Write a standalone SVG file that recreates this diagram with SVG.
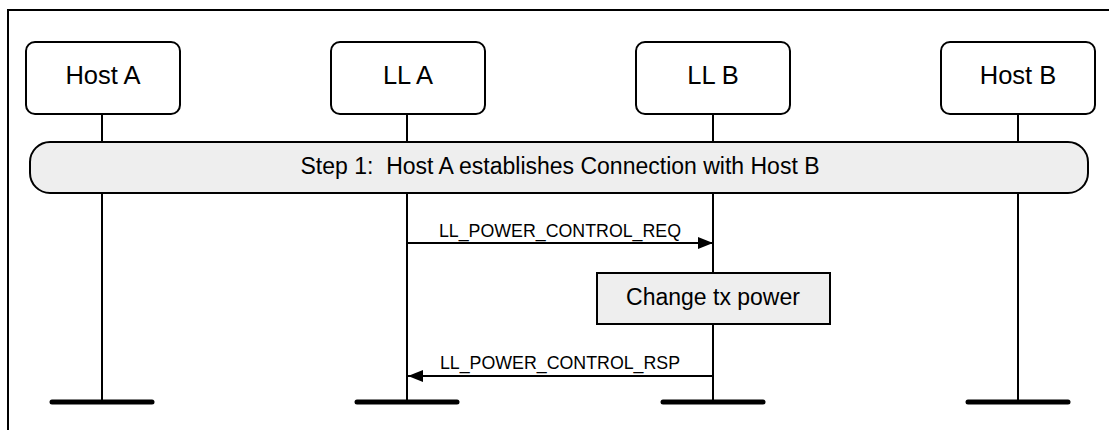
<svg xmlns="http://www.w3.org/2000/svg" width="1109" height="430" viewBox="0 0 1109 430">
<style>
.box{fill:#fff;stroke:#000;stroke-width:2}
.lt{font-family:"Liberation Sans",Arial,sans-serif;font-size:23px;fill:#000;text-anchor:middle}
.ht{font-size:25.5px}
.ml{font-family:"Liberation Sans",Arial,sans-serif;font-size:17.8px;fill:#000;text-anchor:middle}
.life{stroke:#000;stroke-width:2}
.foot{stroke:#000;stroke-width:5;stroke-linecap:round}
.msg{stroke:#000;stroke-width:2;fill:none}
.grey{fill:#eeeeee;stroke:#000;stroke-width:2}
</style>
<defs>
<marker id="ah" markerWidth="15" markerHeight="12" refX="15" refY="6" orient="auto" markerUnits="userSpaceOnUse">
<path d="M0,0 L15,6 L0,12 Z" fill="#000"/>
</marker>
</defs>
<path d="M8,430 V10 H1109" fill="none" stroke="#000" stroke-width="2"/>
<g id="lifelines">
<line class="life" x1="102" y1="114" x2="102" y2="402"/>
<line class="life" x1="407" y1="114" x2="407" y2="402"/>
<line class="life" x1="713" y1="114" x2="713" y2="402"/>
<line class="life" x1="1018" y1="114" x2="1018" y2="402"/>
<line class="foot" x1="52" y1="402" x2="152" y2="402"/>
<line class="foot" x1="357" y1="402" x2="457" y2="402"/>
<line class="foot" x1="663" y1="402" x2="763" y2="402"/>
<line class="foot" x1="968" y1="402" x2="1068" y2="402"/>
</g>
<g id="hostA"><rect class="box" x="26" y="42" width="154" height="72" rx="9"/><text class="lt ht" x="103" y="84">Host A</text></g>
<g id="llA"><rect class="box" x="331" y="42" width="154" height="72" rx="9"/><text class="lt ht" x="408" y="84">LL A</text></g>
<g id="llB"><rect class="box" x="636" y="42" width="154" height="72" rx="9"/><text class="lt ht" x="713" y="84">LL B</text></g>
<g id="hostB"><rect class="box" x="941" y="42" width="154" height="72" rx="9"/><text class="lt ht" x="1018" y="84">Host B</text></g>
<g id="step1"><rect class="grey" x="30" y="142" width="1058" height="51" rx="20"/><text class="lt" x="560" y="174" xml:space="preserve">Step 1:  Host A establishes Connection with Host B</text></g>
<g id="changeTx"><rect class="grey" x="597" y="273" width="233" height="51"/><text class="lt" x="713" y="305">Change tx power</text></g>
<g id="connectors">
<line class="msg" x1="407" y1="243" x2="713" y2="243" marker-end="url(#ah)"/>
<text class="ml" x="560" y="237">LL_POWER_CONTROL_REQ</text>
<line class="msg" x1="713" y1="376" x2="408" y2="376" marker-end="url(#ah)"/>
<text class="ml" x="560" y="369">LL_POWER_CONTROL_RSP</text>
</g>
</svg>
